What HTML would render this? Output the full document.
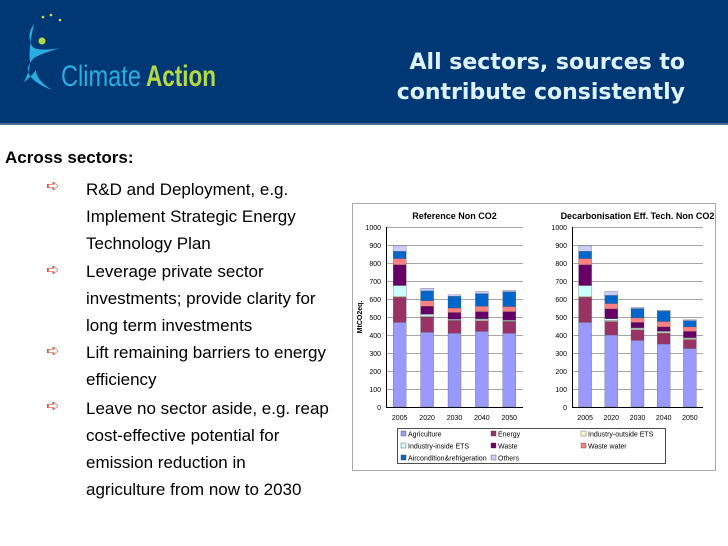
<!DOCTYPE html>
<html><head><meta charset="utf-8">
<style>
body{margin:0;width:728px;height:546px;background:#fff;position:relative;overflow:hidden;font-family:"Liberation Sans",sans-serif}
#hdr{position:absolute;left:0;top:0;width:728px;height:123px;background:#003876;border-bottom:2px solid #4a6a90}
#title{position:absolute;left:371px;top:48px;width:314px;color:#def2ff;font-family:"DejaVu Sans","Liberation Sans",sans-serif;font-weight:bold;font-size:22px;line-height:30px;text-align:right;white-space:nowrap}
.t{position:absolute;font-size:17px;color:#000;white-space:nowrap}
.b{position:absolute;left:46px;color:#d65a3a;font-size:16px}
</style></head><body>
<div id="hdr">
<svg width="230" height="110" style="position:absolute;left:0;top:0">
<circle cx="43" cy="17" r="1.3" fill="#e8d840"/><circle cx="51" cy="15" r="1.3" fill="#e8d840"/><circle cx="60" cy="20" r="1.3" fill="#e8d840"/>
<circle cx="42" cy="41" r="3.5" fill="#b8d840"/>
<path d="M34 24 Q26 34 32 46 Q36 52 60 48 Q40 54 34 58 Q24 68 30 76 Q36 84 52 90 Q36 80 36 70 Q30 78 24 82 Q30 70 30 62 Q28 50 34 24Z" fill="#2aaee0"/>
<text x="61" y="86" font-family="Liberation Sans Narrow,Liberation Sans,sans-serif" font-size="30" fill="#2aaee0" textLength="80" lengthAdjust="spacingAndGlyphs">Climate</text>
<text x="146" y="86" font-family="Liberation Sans Narrow,Liberation Sans,sans-serif" font-weight="bold" font-size="30" fill="#b8d840" textLength="70" lengthAdjust="spacingAndGlyphs">Action</text>
</svg>
<div id="title">All sectors, sources to<br>contribute consistently</div>
</div>
<div class="t" style="left:5px;top:148px;font-weight:bold">Across sectors:</div>
<div class="b" style="top:176px">➪</div>
<div class="b" style="top:260px">➪</div>
<div class="b" style="top:341px">➪</div>
<div class="b" style="top:396px">➪</div>
<div class="t" style="left:86px;top:176px;line-height:27px">R&amp;D and Deployment, e.g.<br>Implement Strategic Energy<br>Technology Plan</div>
<div class="t" style="left:86px;top:258px;line-height:27px">Leverage private sector<br>investments; provide clarity for<br>long term investments</div>
<div class="t" style="left:86px;top:339px;line-height:27px">Lift remaining barriers to energy<br>efficiency</div>
<div class="t" style="left:86px;top:395px;line-height:27px">Leave no sector aside, e.g. reap<br>cost-effective potential for<br>emission reduction in<br>agriculture from now to 2030</div>
<svg id="chart" width="728" height="546" style="position:absolute;left:0;top:0"></svg>
<script>
const years=["2005","2020","2030","2040","2050"];
const sectors=["Agriculture","Energy","Industry-outside ETS","Industry-inside ETS","Waste","Waste water","Aircondition&refrigeration","Others"];
const colors=["#9999ff","#993366","#ffffcc","#ccffff","#660066","#ff8080","#0066cc","#ccccff"];
const yTicks=[0,100,200,300,400,500,600,700,800,900,1000];
const refAgri=[470,415,410,420,410];
const refEnergy=[140,85,70,60,65];
const refIndOut=[5,5,3,5,3];
const refIndIn=[60,10,5,5,5];
const refWaste=[115,45,37,40,47];
const refWW=[35,30,25,30,28];
const refAir=[40,55,65,70,82];
const refOther=[30,15,8,12,8];
const decAgri=[470,400,370,350,325];
const decEnergy=[140,75,60,60,50];
const decIndOut=[5,5,5,5,5];
const decIndIn=[60,10,5,5,5];
const decWaste=[115,55,30,25,35];
const decWW=[35,30,25,30,25];
const decAir=[40,45,52,58,35];
const decOther=[30,22,6,5,5];
const NS="http://www.w3.org/2000/svg";
const svg=document.getElementById('chart');
function mk(t,a,p){const e=document.createElementNS(NS,t);for(const k in a)e.setAttribute(k,a[k]);(p||svg).appendChild(e);return e;}
const frame=mk('rect',{x:352.5,y:203.5,width:363,height:267,fill:'#fff',stroke:'#aaa'});


const y0=407,y1=227;
function yS(v){return y0-(v/1000)*(y0-y1);}
function panel(x0,x1,title,series,key){
  const g=mk('g',{});
  
  
  const tt=mk('text',{x:(x0+x1)/2,y:219,'font-size':9,'font-weight':'bold','text-anchor':'middle',fill:'#000'},g);
  tt.textContent=title;
  
  
  yTicks.forEach(v=>{
    const l=mk('line',{x1:x0,x2:x1,y1:yS(v)+.5,y2:yS(v)+.5,stroke:v===0?'#000':'#888','stroke-width':v===0?1:0.7},g);
    
    
    const t=mk('text',{x:x0-5,y:yS(v)+3,'font-size':7,'text-anchor':'end',fill:'#000'},g);
    t.textContent=v;
    
    
  });
  mk('line',{x1:x0+.5,x2:x0+.5,y1:y1,y2:y0,stroke:'#000'},g);
  const step=(x1-x0)/years.length;
  years.forEach((yr,i)=>{
    const cx=x0+step*(i+.5);
    let acc=0;
    series.forEach((s,j)=>{
      const v=s[i];
      const r=mk('rect',{x:cx-6.5,y:yS(acc+v),width:13,height:yS(acc)-yS(acc+v),fill:colors[j],stroke:'#555','stroke-width':0.3},g);
      
      
      acc+=v;
    });
    const t=mk('text',{x:cx,y:420,'font-size':7,'text-anchor':'middle',fill:'#000'},g);
    t.textContent=yr;
    
    
  });
}
panel(386,523,"Reference Non CO2",[refAgri,refEnergy,refIndOut,refIndIn,refWaste,refWW,refAir,refOther],'reference');
panel(572,703,"Decarbonisation Eff. Tech. Non CO2",[decAgri,decEnergy,decIndOut,decIndIn,decWaste,decWW,decAir,decOther],'decarbonisation');
const yt=mk('text',{x:0,y:0,'font-size':7,'font-weight':'bold','text-anchor':'middle',transform:'translate(362,317) rotate(-90)'});
yt.textContent='MtCO2eq.';


const lg=mk('rect',{x:397.5,y:428.5,width:268,height:35,fill:'#fff',stroke:'#000','stroke-width':0.7});


sectors.forEach((s,i)=>{
  const col=i%3,row=Math.floor(i/3);
  const lx=401+col*90,ly=434+row*12;
  const r=mk('rect',{x:lx,y:ly-3,width:5,height:5,fill:colors[i],stroke:'#444','stroke-width':0.4});
  
  
  const t=mk('text',{x:lx+7,y:ly+2.5,'font-size':7,fill:'#000'});
  t.textContent=s;
  
  
});
</script>
</body></html>
